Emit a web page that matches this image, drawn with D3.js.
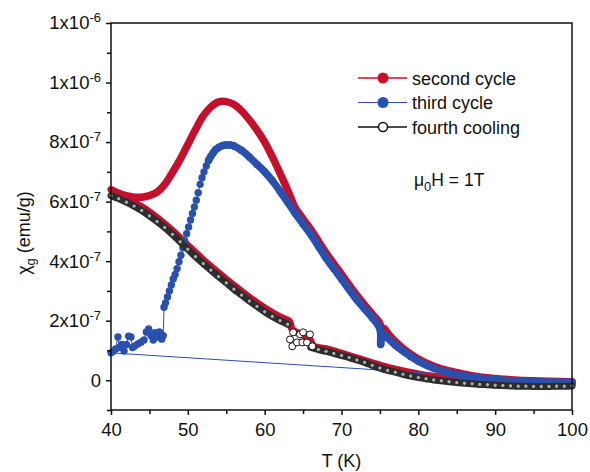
<!DOCTYPE html>
<html>
<head>
<meta charset="utf-8">
<script src="https://cdn.jsdelivr.net/npm/d3@7"></script>
<style>
body{margin:0;background:#fff}
text{font-family:"Liberation Sans",Arial,sans-serif;fill:#111}
</style>
</head>
<body>
<div id="chart"></div>
<script>
// values in units of 1e-7 emu/g
const xTicks = [40, 50, 60, 70, 80, 90, 100];
const xMinor = [45, 55, 65, 75, 85, 95];
const yTicks = [0, 2, 4, 6, 8, 10, 12];
const yTickBase = ["0", "2x10", "4x10", "6x10", "8x10", "1x10", "1x10"];
const yTickExp = ["", "-7", "-7", "-7", "-7", "-6", "-6"];
const yMinor = [-1, 1, 3, 5, 7, 9, 11];

const seriesNames = ["second cycle", "third cycle", "fourth cooling"];

// second cycle: cooling 100 -> 40 then heating 40 -> 100
const redT = [100, 96, 92, 88, 84, 80, 77, 75, 74, 72, 70, 68, 66.3, 65.8, 63.6, 63.2, 62, 60, 58, 56, 54, 52, 50, 48, 46, 44, 42, 40,
  41, 42, 43, 44, 45, 46, 47, 48, 49, 50, 51, 52, 53, 54, 55, 56, 57, 58, 59, 60, 61, 62, 63, 64, 65, 66, 67, 68, 69, 70,
  71, 72, 73, 74, 75, 75.2, 75.5, 76, 77, 78, 79, 80, 82, 84, 86, 88, 90, 92, 95, 100];
const redV = [-0.13, -0.14, -0.13, -0.08, 0.04, 0.2, 0.36, 0.5, 0.58, 0.74, 0.9, 1.05, 1.15, 1.4, 1.7, 1.98, 2.12, 2.42, 2.78, 3.18, 3.6, 4.04, 4.52, 5.02, 5.45, 5.82, 6.1, 6.4,
  6.28, 6.2, 6.15, 6.15, 6.2, 6.32, 6.58, 6.98, 7.42, 7.92, 8.42, 8.88, 9.18, 9.35, 9.36, 9.26, 9.05, 8.75, 8.4, 8.0, 7.5, 6.95, 6.38, 5.78, 5.42, 5.07, 4.67, 4.27, 3.91, 3.56,
  3.2, 2.85, 2.53, 2.22, 1.9, 1.64, 1.75, 1.58, 1.3, 1.07, 0.88, 0.71, 0.47, 0.31, 0.2, 0.11, 0.06, 0.02, -0.02, -0.05];

// third cycle
const blueT = [100,
  40.0, 40.3, 40.6, 40.9, 41.1, 41.4, 41.7, 42.0, 42.3, 42.6, 42.8, 43.1, 43.5, 43.9, 44.3, 44.6, 44.9, 45.2, 45.5, 45.7, 46.0, 46.3, 46.6, 46.8,
  46.9, 47.1, 47.35, 47.6, 47.85, 48.1, 48.35, 48.6, 48.85, 49.1, 49.35, 49.6, 49.85, 50.1, 50.35, 50.6, 50.85, 51.1, 51.35, 51.6,
  51.85, 52.1, 52.4, 52.7, 53.0, 53.3, 53.6, 54, 54.5, 55, 55.5, 56,
  57, 58, 59, 60, 61, 62, 63, 64, 65, 66, 67, 68, 69, 70, 71, 72, 73, 74, 75, 75.1, 75.3, 75.6, 76, 77, 78, 79, 80, 82, 84, 86, 88, 90, 92, 95, 100];
const blueV = [-0.07,
  0.92, 0.97, 1.05, 1.45, 1.1, 1.2, 0.98, 1.2, 1.48, 1.45, 1.1, 1.15, 1.22, 1.28, 1.35, 1.62, 1.72, 1.5, 1.35, 1.6, 1.45, 1.62, 1.38, 1.5,
  2.45, 2.6, 2.8, 3.0, 3.2, 3.4, 3.55, 3.75, 3.98, 4.2, 4.45, 4.68, 4.92, 5.15, 5.38, 5.6, 5.82, 6.05, 6.3, 6.58,
  6.8, 7.0, 7.2, 7.38, 7.52, 7.64, 7.74, 7.82, 7.88, 7.9, 7.9, 7.87,
  7.72, 7.5, 7.25, 7.0, 6.7, 6.35, 5.98, 5.6, 5.25, 4.9, 4.5, 4.1, 3.75, 3.4, 3.05, 2.7, 2.4, 2.1, 1.72, 1.2, 1.58, 1.5, 1.42, 1.18, 0.98, 0.8, 0.64, 0.4, 0.25, 0.14, 0.07, 0.02, -0.02, -0.05, -0.07];

// fourth cooling
const blackT = [40, 41, 42, 43, 44, 45, 46, 47, 48, 49, 50, 51, 52, 53, 54, 55, 56, 57, 58, 59, 60, 61, 62, 63,
  66, 67, 68, 69, 70, 71, 72, 73, 74, 75, 76, 77, 78, 79, 80, 81, 82, 83, 84, 85, 86, 87, 88, 89, 90, 91, 92, 93, 94, 95, 96, 97, 98, 99, 100];
const blackV = [6.2, 6.1, 5.98, 5.85, 5.7, 5.52, 5.33, 5.13, 4.9, 4.65, 4.4, 4.15, 3.92, 3.7, 3.48, 3.27, 3.06, 2.86, 2.66, 2.48, 2.3, 2.14, 2.0, 1.88,
  1.1, 1.03, 0.97, 0.9, 0.83, 0.76, 0.68, 0.6, 0.5, 0.41, 0.33, 0.27, 0.2, 0.14, 0.09, 0.05, 0.01, -0.02, -0.05, -0.08, -0.1, -0.12, -0.14, -0.15, -0.17, -0.18, -0.19, -0.2, -0.2, -0.21, -0.21, -0.21, -0.2, -0.2, -0.19];
const blackJumpT = [63.3, 63.6, 63.7, 64.2, 64.6, 64.9, 65.0, 65.5, 65.9, 66.2];
const blackJumpV = [1.37, 1.14, 1.61, 1.27, 1.54, 1.27, 1.61, 1.27, 1.54, 1.14];

const red = "#c5102d", blue = "#2a50ae";

const width = 590, height = 472;
const margin = {top: 23, right: 18, bottom: 62, left: 111};

const svg = d3.select("#chart").append("svg")
  .attr("width", width).attr("height", height);

const x = d3.scaleLinear().domain([40, 100]).range([margin.left, width - margin.right]);
const y = d3.scaleLinear().domain([-1, 12]).range([height - margin.bottom, margin.top]);

const zip = (ts, vs) => ts.map((t, i) => [t, vs[i]]);
const redData = zip(redT, redV);
const blueData = zip(blueT, blueV);
const blackData = zip(blackT, blackV);
const jumpData = zip(blackJumpT, blackJumpV);

const line = d3.line().x(d => x(d[0])).y(d => y(d[1])).curve(d3.curveCatmullRom);
const plain = d3.line().x(d => x(d[0])).y(d => y(d[1]));

const plot = svg.append("g");

// second cycle: thick continuous trace
plot.append("path").datum(redData)
  .attr("d", line).attr("fill", "none")
  .attr("stroke", red).attr("stroke-width", 7.5)
  .attr("stroke-linejoin", "round").attr("stroke-linecap", "round");

// third cycle: thin connecting line, dense part as thick trace, dots
plot.append("path").datum(blueData)
  .attr("d", plain).attr("fill", "none")
  .attr("stroke", blue).attr("stroke-width", 1);
plot.append("path").datum(blueData.filter((d, i) => i > 0 && d[0] >= 52.7))
  .attr("d", line).attr("fill", "none")
  .attr("stroke", blue).attr("stroke-width", 7.5)
  .attr("stroke-linejoin", "round").attr("stroke-linecap", "round");
plot.selectAll("circle.blue").data(blueData).join("circle")
  .attr("class", "blue")
  .attr("cx", d => x(d[0])).attr("cy", d => y(d[1]))
  .attr("r", 3.7).attr("fill", blue);

// fourth cooling: dense open circles
const segments = [];
blackData.forEach((d, i) => {
  if (i === 0 || d[0] - blackData[i - 1][0] > 2) segments.push([]);
  segments[segments.length - 1].push(d);
});
plot.selectAll("path.black").data(segments).join("path")
  .attr("class", "black")
  .attr("d", line).attr("fill", "none")
  .attr("stroke", "#2e2e2e").attr("stroke-width", 7)
  .attr("stroke-linecap", "round");
plot.selectAll("circle.black").data(blackData).join("circle")
  .attr("class", "black")
  .attr("cx", d => x(d[0])).attr("cy", d => y(d[1]))
  .attr("r", 2.2).attr("fill", "#aaa")
  .attr("stroke", "#111").attr("stroke-width", 0.8);
plot.selectAll("circle.jump").data(jumpData).join("circle")
  .attr("class", "jump")
  .attr("cx", d => x(d[0])).attr("cy", d => y(d[1]))
  .attr("r", 3.5).attr("fill", "#fff")
  .attr("stroke", "#111").attr("stroke-width", 1);

// frame
svg.append("rect")
  .attr("x", margin.left).attr("y", margin.top)
  .attr("width", width - margin.right - margin.left)
  .attr("height", height - margin.bottom - margin.top)
  .attr("fill", "none").attr("stroke", "#111").attr("stroke-width", 1.5);

// axes
const xAxis = svg.append("g")
  .attr("transform", `translate(0,${height - margin.bottom})`)
  .call(d3.axisBottom(x).tickValues(xTicks).tickSize(5).tickPadding(8).tickFormat(d3.format("d")));
svg.append("g")
  .attr("transform", `translate(0,${height - margin.bottom})`)
  .call(d3.axisBottom(x).tickValues(xMinor).tickSize(4).tickFormat(""));

const yAxis = svg.append("g")
  .attr("transform", `translate(${margin.left},0)`)
  .call(d3.axisLeft(y).tickValues(yTicks).tickSize(5).tickPadding(5));
svg.append("g")
  .attr("transform", `translate(${margin.left},0)`)
  .call(d3.axisLeft(y).tickValues(yMinor).tickSize(4).tickFormat(""));

svg.selectAll(".domain").remove();
svg.selectAll(".tick line").attr("stroke", "#111").attr("stroke-width", 1.5);

xAxis.selectAll("text").attr("font-size", 18.5).attr("fill", "#111");

yAxis.selectAll("text").each(function(d, i) {
  const t = d3.select(this).text(null).attr("font-size", 18.5).attr("fill", "#111");
  t.append("tspan").text(yTickBase[i]);
  if (yTickExp[i]) t.append("tspan").attr("dy", -7).attr("font-size", 13).text(yTickExp[i]);
});

// axis titles
svg.append("text")
  .attr("x", (margin.left + width - margin.right) / 2).attr("y", 467)
  .attr("text-anchor", "middle").attr("font-size", 18)
  .text("T (K)");

const yt = svg.append("text")
  .attr("transform", "translate(30,233) rotate(-90)")
  .attr("text-anchor", "middle").attr("font-size", 18);
yt.append("tspan").text("χ");
yt.append("tspan").attr("dy", 5).attr("font-size", 13).text("g");
yt.append("tspan").attr("dy", -5).text(" (emu/g)");

// legend
const legend = svg.append("g").attr("transform", "translate(358,78)");
const legendColors = [red, blue, "#111"];
seriesNames.forEach((name, i) => {
  const g = legend.append("g").attr("transform", `translate(0,${i * 24.5})`);
  g.append("line").attr("x1", 0).attr("x2", 49)
    .attr("stroke", legendColors[i]).attr("stroke-width", i === 1 ? 1 : 1.5);
  if (i < 2) {
    g.append("circle").attr("cx", 25).attr("r", 5.5).attr("fill", legendColors[i]);
  } else {
    g.append("circle").attr("cx", 25).attr("r", 4.5)
      .attr("fill", "#fff").attr("stroke", "#111").attr("stroke-width", 1.5);
  }
  g.append("text").attr("x", 54).attr("y", 6.5).attr("font-size", 18).text(name);
});

const note = svg.append("text").attr("x", 414).attr("y", 186).attr("font-size", 17.5);
note.append("tspan").text("μ");
note.append("tspan").attr("dy", 5).attr("font-size", 13).text("0");
note.append("tspan").attr("dy", -5).text("H = 1T");
</script>
</body>
</html>
